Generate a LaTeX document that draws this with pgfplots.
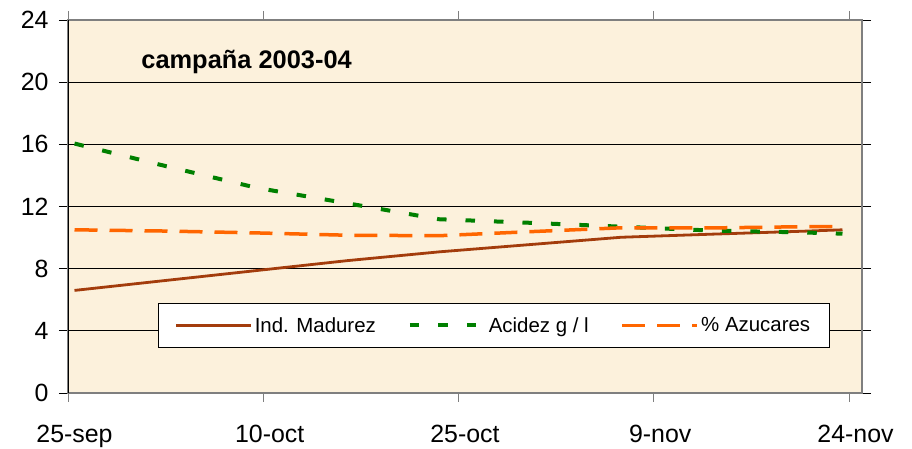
\documentclass[border=0pt]{standalone}
\usepackage{fontspec}
\setmainfont{Liberation Sans}
\usepackage{pgfplots}
\pgfplotsset{compat=1.18}
\definecolor{bgc}{HTML}{FCF1DC}
\definecolor{brn}{HTML}{A33C0C}
\definecolor{grn}{HTML}{008000}
\definecolor{org}{HTML}{FF6600}
\definecolor{bord}{HTML}{7F7F7F}
\begin{document}
\begin{tikzpicture}[x=1bp,y=1bp]
\useasboundingbox (0,0) rectangle (912,449);
\begin{axis}[
  at={(68bp,56bp)}, anchor=south west,
  scale only axis, width=794bp, height=373bp,
  xmin=0, xmax=61, ymin=0, ymax=24,
  axis background/.style={fill=bgc},
  axis line style={draw=bord, line width=1.2bp},
  xtick={0,15,30,45,60},
  xticklabels={25-sep,10-oct,25-oct,9-nov,24-nov},
  ytick={0,4,...,24},
  ymajorgrids,
  grid style={black, line width=0.8bp},
  tick align=outside,
  major tick length=9bp,
  tick style={black, line width=0.8bp},
  xtick style={bord},
  ticklabel style={font=\fontsize{25}{30}\selectfont},
  /pgf/number format/assume math mode=true,
  yticklabel style={anchor=east, xshift=-7bp},
  xticklabel style={anchor=base, yshift=-41bp, xshift=6.5bp},
  legend columns=3,
  legend style={at={(0.536,0.181)}, anchor=center, draw=black, fill=white,
    line width=0.8bp, font=\fontsize{20.5}{24}\selectfont,
    inner xsep=17bp, inner ysep=12bp,
    /tikz/every even column/.append style={column sep=30bp}},
  legend image code/.code={\draw[#1] (0bp,0bp) -- (75bp,0bp);},
]
\addplot[brn, line width=2.8bp] coordinates {
  (0.5,6.6) (7.5,7.24) (14.5,7.88) (21.5,8.52) (28.5,9.08) (35.5,9.55)
  (42.5,10.02) (49.5,10.22) (56.5,10.41) (59.5,10.5)};
\addlegendentry{Ind. Madurez}
\addplot[grn, line width=4bp, dash pattern=on 9.5bp off 19bp] coordinates {
  (0.5,16.05) (7.5,14.6) (14.5,13.2) (21.5,12.2) (28.5,11.18) (35.5,10.95)
  (42.5,10.7) (49.5,10.45) (56.5,10.33) (59.5,10.25)};
\addlegendentry{Acidez g / l}
\addplot[org, line width=3.5bp, dash pattern=on 23bp off 12bp] coordinates {
  (0.5,10.5) (7.5,10.42) (14.5,10.3) (21.5,10.15) (28.5,10.12) (35.5,10.38)
  (42.5,10.63) (49.5,10.62) (56.5,10.7) (59.5,10.7)};
\addlegendentry{\% Azucares}
\draw[black, line width=1.2bp] (rel axis cs:0,0) -- (rel axis cs:0,1);
\node[anchor=base west, font=\bfseries\fontsize{25.5}{30}\selectfont]
  at (rel axis cs:0.088,0.871) {campaña 2003-04};
\end{axis}
\end{tikzpicture}
\end{document}
